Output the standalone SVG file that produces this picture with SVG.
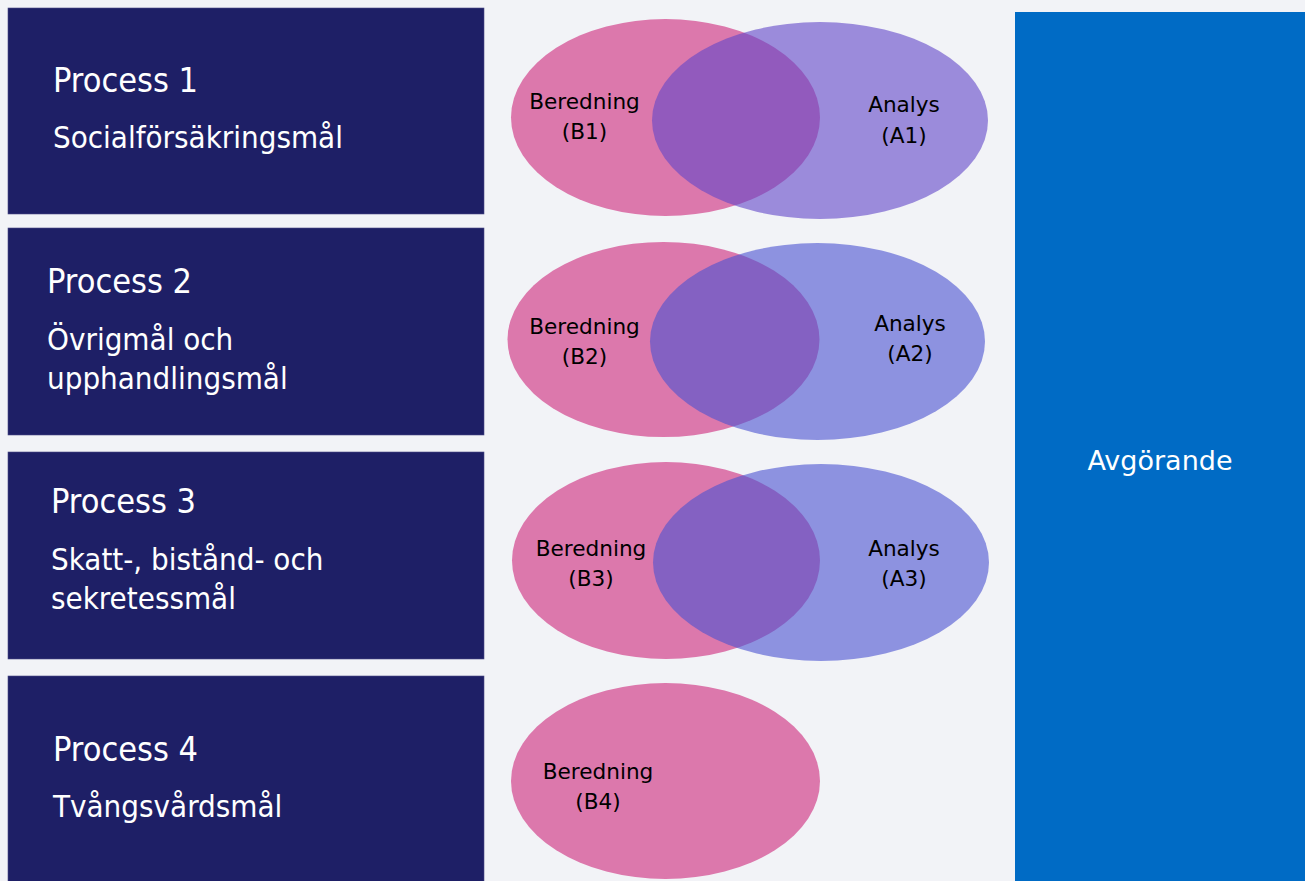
<svg xmlns="http://www.w3.org/2000/svg" width="1305" height="881" viewBox="0 0 1305 881">
<style>
.box{fill:#1E1F66;stroke:#4a4b86;stroke-width:0.6}
.t{font-family:"DejaVu Sans Condensed","DejaVu Sans",sans-serif;fill:#ffffff}
.title{font-size:34px}
.sub{font-size:31px}
.b{fill:#DC78AC}
.a1{fill:#6146C8;fill-opacity:0.6}
.a2{fill:#4A51D1;fill-opacity:0.6}
.lbl{font-family:"DejaVu Sans",sans-serif;font-size:21.6px;fill:#000;text-anchor:middle}
</style>
<rect width="1305" height="881" fill="#F2F3F7"/>
<g id="process1">
<rect class="box" x="8" y="8" width="476" height="206"/>
<text class="t title" x="53" y="92">Process 1</text>
<text class="t sub" x="53" y="148">Socialförsäkringsmål</text>
</g>
<g id="process2">
<rect class="box" x="8" y="228" width="476" height="207"/>
<text class="t title" x="47" y="293">Process 2</text>
<text class="t sub" x="47" y="350">Övrigmål och</text>
<text class="t sub" x="47" y="389">upphandlingsmål</text>
</g>
<g id="process3">
<rect class="box" x="8" y="452" width="476" height="207"/>
<text class="t title" x="51" y="513">Process 3</text>
<text class="t sub" x="51" y="570">Skatt-, bistånd- och</text>
<text class="t sub" x="51" y="609">sekretessmål</text>
</g>
<g id="process4">
<rect class="box" x="8" y="676" width="476" height="210"/>
<text class="t title" x="53" y="761">Process 4</text>
<text class="t sub" x="53" y="817">Tvångsvårdsmål</text>
</g>
<g id="venn1">
<ellipse class="b" cx="665.5" cy="117.5" rx="154.5" ry="98.5"/>
<ellipse class="a1" cx="820" cy="120.5" rx="168" ry="98.5"/>
<text class="lbl" x="584.5" y="109">Beredning</text>
<text class="lbl" x="584.5" y="139">(B1)</text>
<text class="lbl" x="904" y="112">Analys</text>
<text class="lbl" x="904" y="143">(A1)</text>
</g>
<g id="venn2">
<ellipse class="b" cx="663.5" cy="339.5" rx="156" ry="97.5"/>
<ellipse class="a2" cx="817.5" cy="341.5" rx="167.5" ry="98.5"/>
<text class="lbl" x="584.5" y="334">Beredning</text>
<text class="lbl" x="584.5" y="364">(B2)</text>
<text class="lbl" x="910" y="331">Analys</text>
<text class="lbl" x="910" y="361">(A2)</text>
</g>
<g id="venn3">
<ellipse class="b" cx="666" cy="560.5" rx="154" ry="98.5"/>
<ellipse class="a2" cx="821" cy="562.5" rx="168" ry="98.5"/>
<text class="lbl" x="591" y="556">Beredning</text>
<text class="lbl" x="591" y="586">(B3)</text>
<text class="lbl" x="904" y="556">Analys</text>
<text class="lbl" x="904" y="586">(A3)</text>
</g>
<g id="venn4">
<ellipse class="b" cx="665.5" cy="781" rx="154.5" ry="98"/>
<text class="lbl" x="598" y="779">Beredning</text>
<text class="lbl" x="598" y="809">(B4)</text>
</g>
<g id="avgorande">
<rect x="1015" y="12" width="290" height="869" fill="#006BC5"/>
<text x="1160" y="470" font-family="DejaVu Sans, sans-serif" font-size="27" fill="#ffffff" text-anchor="middle">Avgörande</text>
</g>
<g id="connectors"></g>
</svg>
